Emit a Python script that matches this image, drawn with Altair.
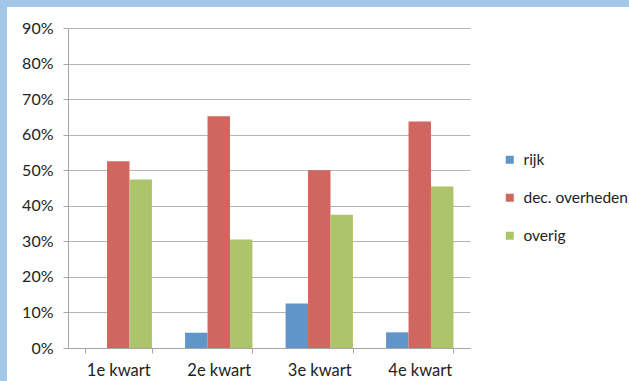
import altair as alt
import pandas as pd

quarters = ["1e kwart", "2e kwart", "3e kwart", "4e kwart"]
series = ["rijk", "dec. overheden", "overig"]
rijk = [0.0, 0.043, 0.125, 0.044]
dec_overheden = [0.525, 0.652, 0.500, 0.637]
overig = [0.474, 0.305, 0.375, 0.454]
colors = ["#5F95C9", "#CF6660", "#ADC46A"]
y_ticks = [0.0, 0.1, 0.2, 0.3, 0.4, 0.5, 0.6, 0.7, 0.8, 0.9]

rows = []
for i, q in enumerate(quarters):
    for s, vals in zip(series, [rijk, dec_overheden, overig]):
        rows.append({"kwart": q, "reeks": s, "waarde": vals[i]})
df = pd.DataFrame(rows)

W, H = 402, 320
PAD_L, PAD_T = 68, 28
TOTAL_W, TOTAL_H = 629, 381
FONT = "Lato"
FS = 15.5
BLUE = "#A3C7E8"

one = pd.DataFrame({"a": [0]})
band_top = alt.Chart(one).mark_rect(color=BLUE).encode(
    x=alt.value(-PAD_L), x2=alt.value(TOTAL_W - PAD_L), y=alt.value(-PAD_T), y2=alt.value(-21)
)
band_left = alt.Chart(one).mark_rect(color=BLUE).encode(
    x=alt.value(-PAD_L), x2=alt.value(-61), y=alt.value(-PAD_T), y2=alt.value(TOTAL_H - PAD_T)
)

bars = alt.Chart(df).mark_bar(strokeWidth=0).encode(
    x=alt.X(
        "kwart:N",
        sort=quarters,
        scale=alt.Scale(paddingInner=0.33, paddingOuter=0.165),
        axis=alt.Axis(
            title=None, labelAngle=0, tickBand="extent", ticks=True, tickSize=5,
            tickColor="#A6A6A6", domainColor="#A6A6A6", grid=False,
            labelPadding=9, labelFontSize=16.5, labelFont=FONT, labelColor="#222222",
        ),
    ),
    xOffset=alt.XOffset("reeks:N", sort=series, scale=alt.Scale(paddingInner=0, paddingOuter=0)),
    y=alt.Y(
        "waarde:Q",
        scale=alt.Scale(domain=[0, 0.9], nice=False),
        axis=alt.Axis(
            format=".0%", values=y_ticks, title=None, tickSize=5, tickColor="#A6A6A6",
            domainColor="#A6A6A6", gridColor="#B5B5B5", grid=True, labelPadding=10,
            labelFontSize=16, labelFont=FONT, labelColor="#222222",
        ),
    ),
    color=alt.Color(
        "reeks:N",
        sort=series,
        scale=alt.Scale(domain=series, range=colors),
        legend=alt.Legend(
            title=None, orient="none", legendX=434, legendY=124, symbolType="square",
            symbolSize=64, symbolStrokeWidth=0, labelFontSize=FS, labelFont=FONT,
            labelColor="#222222", rowPadding=21, labelOffset=6,
        ),
    ),
)

chart = alt.layer(band_top, band_left, bars).properties(
    width=W,
    height=H,
    autosize=alt.AutoSizeParams(type="none"),
    padding={"left": PAD_L, "top": PAD_T, "right": TOTAL_W - PAD_L - W, "bottom": TOTAL_H - PAD_T - H},
    background="white",
).configure_view(stroke=None)

chart.save("out.html", embed_options={"renderer": "svg", "actions": False})
